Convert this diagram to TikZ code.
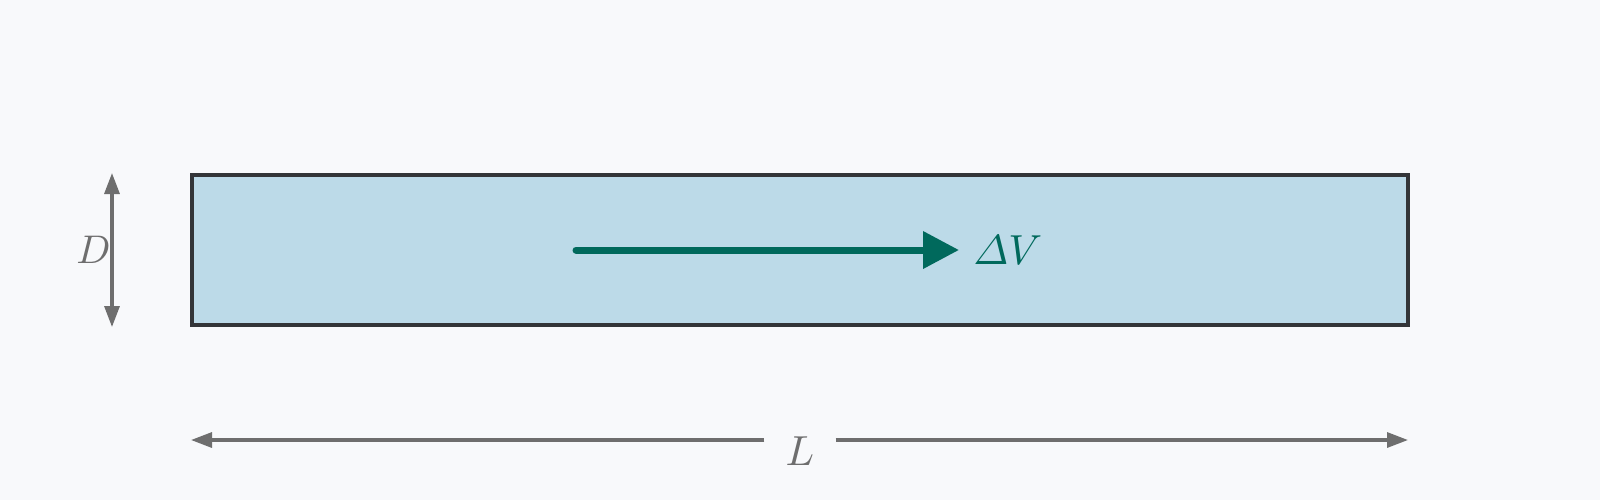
\documentclass[tikz,border=0pt]{standalone}
\usepackage{amsmath}
\usetikzlibrary{arrows.meta, positioning}

\definecolor{bgcol}{HTML}{F8F9FB}
\definecolor{pipefill}{HTML}{BCDAE8}
\definecolor{pipeedge}{HTML}{333538}
\definecolor{flowcol}{HTML}{00695C}
\definecolor{dimcol}{HTML}{6E6E6E}

% labels set at 10pt and scaled up, for heavier strokes
\newcommand{\biglab}[2][2]{\scalebox{#1}{$#2$}}

\tikzstyle{pipe} = [rectangle, draw=pipeedge, line width=2.4pt, fill=pipefill, minimum width=608pt, minimum height=75pt, inner sep=0pt]
\tikzstyle{flow} = [line width=3.5pt, line cap=round, draw=flowcol, -{Triangle[length=18pt, width=18pt]}]
\tikzstyle{flowlabel} = [text=flowcol, inner sep=7pt, font=\fontsize{10}{12}\selectfont]
\tikzstyle{dim} = [line width=1.6pt, draw=dimcol, -{Triangle[length=10.5pt, width=7.5pt]}]
\tikzstyle{dimboth} = [dim, {Triangle[length=10.5pt, width=7.5pt]}-{Triangle[length=10.5pt, width=7.5pt]}]
\tikzstyle{dimlabel} = [text=dimcol, font=\fontsize{10}{12}\selectfont]

\begin{document}
\begin{tikzpicture}[x=0.5pt, y=-0.5pt]
\fill[bgcol] (0,0) rectangle (1600,500);
\useasboundingbox (0,0) rectangle (1600,500);

% pipe section
\node (pipe) [pipe] at (800,250) {};

% velocity change
\coordinate (flowstart) at (576,250);
\node (dv) [flowlabel, anchor=west] at (959,250) {\biglab[2.1]{\varDelta V}};
\draw[flow] (flowstart) -- (dv.west);

% diameter
\coordinate (dtop) at (112,173);
\coordinate (dbot) at (112,327);
\draw[dimboth] (dtop) -- (dbot);
\node (dlab) [dimlabel, anchor=east, inner sep=0.5pt] at (112,250) {\biglab{D}};

% length
\coordinate (lleft) at (191,440);
\coordinate (lright) at (1408,440);
\node (llab) [dimlabel, inner xsep=10.5pt, inner ysep=0pt] at (800,451) {\biglab[2.1]{L}};
\draw[dim] (llab.west |- lleft) -- (lleft);
\draw[dim] (llab.east |- lright) -- (lright);
\end{tikzpicture}
\end{document}
